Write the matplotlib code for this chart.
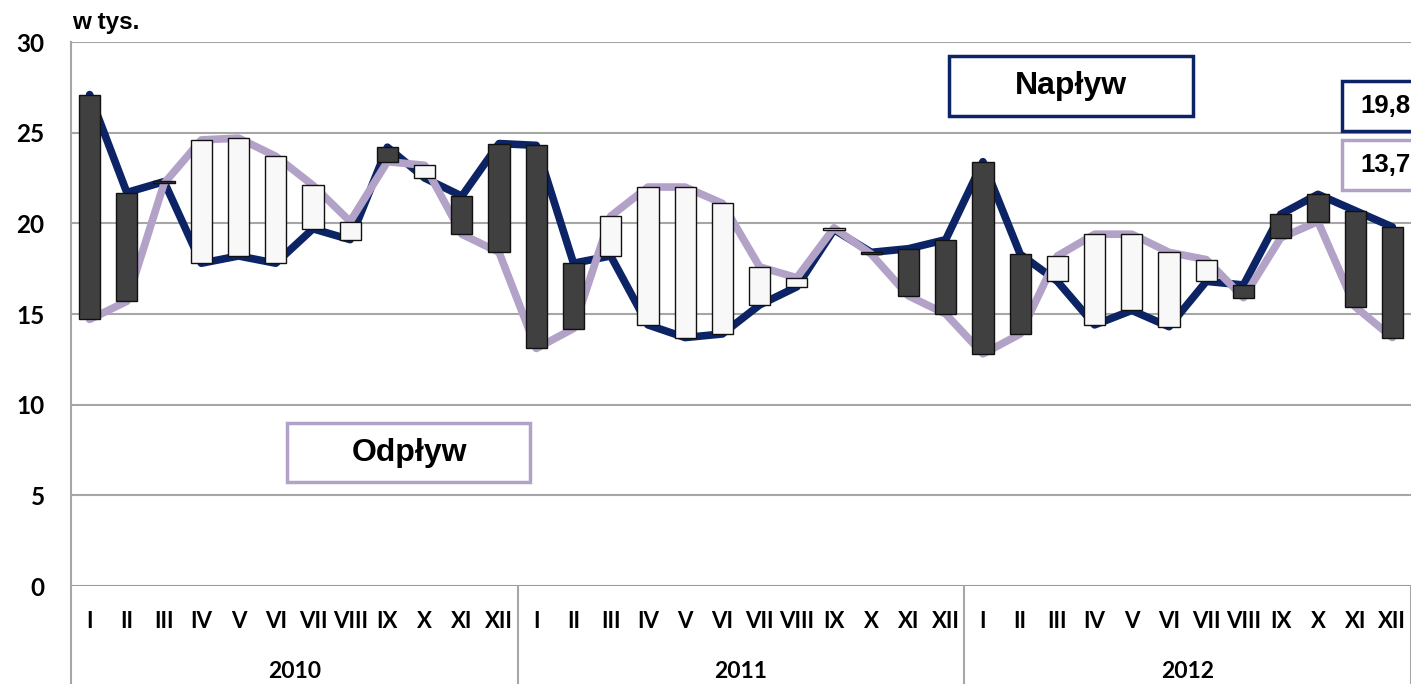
import numpy as np
import matplotlib.pyplot as plt
from matplotlib.patches import Rectangle
import matplotlib.transforms as mtransforms

# monthly data, in thousands
months = ["I", "II", "III", "IV", "V", "VI", "VII", "VIII", "IX", "X", "XI", "XII"]
years = ["2010", "2011", "2012"]

naplyw = [27.1, 21.7, 22.3, 17.8, 18.2, 17.8, 19.7, 19.1, 24.2, 22.5, 21.5, 24.4,
          24.3, 17.8, 18.2, 14.4, 13.7, 13.9, 15.5, 16.5, 19.65, 18.4, 18.6, 19.1,
          23.4, 18.3, 16.8, 14.4, 15.2, 14.3, 16.8, 16.6, 20.5, 21.6, 20.7, 19.8]
odplyw = [14.7, 15.7, 22.2, 24.6, 24.7, 23.7, 22.1, 20.1, 23.4, 23.2, 19.4, 18.4,
          13.1, 14.2, 20.4, 22.0, 22.0, 21.1, 17.6, 17.0, 19.75, 18.3, 16.0, 15.0,
          12.8, 13.9, 18.2, 19.4, 19.4, 18.4, 18.0, 15.9, 19.2, 20.1, 15.4, 13.7]

last_in = "19,8"
last_out = "13,7"

NAVY = "#0c2466"
LILAC = "#b3a2c7"
GRID = "#a6a6a6"

fig = plt.figure(figsize=(14.11, 6.84), dpi=100)
ax = fig.add_axes([71 / 1411, 1 - 586 / 684, 1340 / 1411, 544 / 684])

x = np.arange(len(naplyw))
nap = np.array(naplyw)
odp = np.array(odplyw)

ax.plot(x, nap, color=NAVY, lw=5.5, solid_capstyle="round", solid_joinstyle="round", zorder=2)
ax.plot(x, odp, color=LILAC, lw=5.5, solid_capstyle="round", solid_joinstyle="round", zorder=2.1)

up = nap >= odp
bottoms = np.minimum(nap, odp)
heights = np.abs(nap - odp)
heights = np.maximum(heights, 0.12)
ax.bar(x[up], heights[up], bottom=bottoms[up], width=0.57, color="#404040",
       edgecolor="#111111", linewidth=1, zorder=3)
ax.bar(x[~up], heights[~up], bottom=bottoms[~up], width=0.57, color="#f8f8f8",
       edgecolor="#111111", linewidth=1, zorder=3)

ax.set_xlim(-0.5, 35.5)
ax.set_ylim(0, 30)
ax.set_yticks(range(0, 31, 5))
ax.yaxis.grid(True, color=GRID, lw=1.5, zorder=0)
ax.set_axisbelow(True)
for s in ["top", "right", "bottom"]:
    ax.spines[s].set_visible(False)
ax.spines["left"].set_color(GRID)
ax.spines["left"].set_linewidth(1.5)
ax.axhline(0, color="#999999", lw=2, zorder=1)

ax.tick_params(axis="y", length=0, pad=19, labelsize=17.5)
for lab in ax.get_yticklabels():
    lab.set_fontweight("bold")
    lab.set_fontfamily("Lato")

ax.set_xticks(x)
ax.set_xticklabels(months * 3, fontsize=16, fontfamily="Lato", fontweight="bold")
ax.tick_params(axis="x", length=0, pad=18)

trans = mtransforms.blended_transform_factory(ax.transData, ax.transAxes)
for i, yr in enumerate(years):
    ax.text(i * 12 + 5.5, -0.158, yr, transform=trans, ha="center", va="center",
            fontsize=16.5, fontweight="bold", fontfamily="Lato")
for b in [-0.5, 11.5, 23.5, 35.5]:
    ax.plot([b, b], [0, -0.2], transform=trans, color=GRID, lw=1.5, clip_on=False)

# unit label
fig.text(72 / 1411, 1 - 22 / 684, "w tys.", fontsize=17.5, fontweight="bold",
         fontfamily="Liberation Sans", va="center", ha="left")

# legend boxes
def box(x0, y0, x1, y1, color, text, tx, size):
    fig.patches.append(Rectangle((x0 / 1411, 1 - y1 / 684), (x1 - x0) / 1411, (y1 - y0) / 684,
                                 transform=fig.transFigure, fill=True, facecolor="white",
                                 edgecolor=color, lw=2.5, zorder=5))
    fig.text(tx / 1411, 1 - (y0 + y1) / 2 / 684, text, fontsize=size, fontweight="bold",
             fontfamily="Liberation Sans", va="center",
             ha="center" if tx < 1350 else "left", zorder=6)

box(949, 56, 1193, 116, NAVY, "Napływ", 1071, 23)
box(287, 423, 530, 482, LILAC, "Odpływ", 409, 23)
box(1342, 81, 1430, 131, NAVY, last_in, 1360, 18.5)
box(1342, 140, 1430, 190, LILAC, last_out, 1360, 18.5)

plt.savefig("out.png", dpi=100)
plt.close()
